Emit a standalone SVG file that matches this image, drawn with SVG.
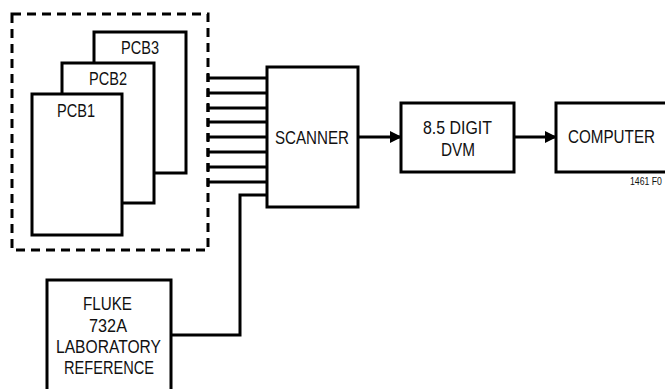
<svg xmlns="http://www.w3.org/2000/svg" width="665" height="389" viewBox="0 0 665 389">
<style>
.box{fill:#fff;stroke:#000;stroke-width:3}
.ln{fill:none;stroke:#000;stroke-width:3}
text{font-family:"Liberation Sans",Arial,sans-serif;font-size:18px;fill:#111}
</style>
<defs>
<marker id="ah" markerWidth="12" markerHeight="12" refX="11" refY="6" orient="auto" markerUnits="userSpaceOnUse">
<path d="M0,0 L12,6 L0,12 Z" fill="#000"/>
</marker>
</defs>
<rect width="665" height="389" fill="#fff"/>
<g id="group-box">
<rect x="12" y="14" width="196" height="236" fill="none" stroke="#000" stroke-width="3" stroke-dasharray="9,6"/>
</g>
<g id="pcb3"><rect class="box" x="94" y="32" width="92" height="141"/><text x="121" y="54" textLength="38" lengthAdjust="spacingAndGlyphs">PCB3</text></g>
<g id="pcb2"><rect class="box" x="62" y="63" width="92" height="140"/><text x="89" y="85" textLength="38" lengthAdjust="spacingAndGlyphs">PCB2</text></g>
<g id="pcb1"><rect class="box" x="32" y="94" width="90" height="141"/><text x="57" y="117" textLength="38" lengthAdjust="spacingAndGlyphs">PCB1</text></g>
<g id="connectors">
<path class="ln" d="M207,78H267M207,93H267M207,108H267M207,122H267M207,137H267M207,152H267M207,167H267M207,182H267"/>
<path class="ln" d="M208,74V82M208,89V97M208,104V112M208,118V126M208,133V141M208,148V156M208,163V171M208,178V186"/>
<path class="ln" d="M267,195H240V335H171"/>
<path class="ln" d="M358,137H401" marker-end="url(#ah)"/>
<path class="ln" d="M514,137H556" marker-end="url(#ah)"/>
</g>
<g id="scanner"><rect class="box" x="267" y="67" width="91" height="140"/><text x="275" y="144" textLength="74" lengthAdjust="spacingAndGlyphs">SCANNER</text></g>
<g id="dvm"><rect class="box" x="401" y="103" width="113" height="69"/><text x="423" y="134" textLength="69" lengthAdjust="spacingAndGlyphs">8.5 DIGIT</text><text x="441" y="156" textLength="34" lengthAdjust="spacingAndGlyphs">DVM</text></g>
<g id="computer"><path class="box" d="M665,103H556V172H665"/><text transform="translate(568,143) scale(0.845,1)">COMPUTER</text></g>
<g id="fluke"><path class="box" d="M47,389V280H171V389"/>
<text x="83" y="310" textLength="49" lengthAdjust="spacingAndGlyphs">FLUKE</text>
<text x="89" y="332" textLength="38" lengthAdjust="spacingAndGlyphs">732A</text>
<text x="56" y="353" textLength="105" lengthAdjust="spacingAndGlyphs">LABORATORY</text>
<text x="64" y="374" textLength="90" lengthAdjust="spacingAndGlyphs">REFERENCE</text></g>
<text transform="translate(630,185) scale(0.87,1)" style="font-size:10px">1461 F0</text>
</svg>
